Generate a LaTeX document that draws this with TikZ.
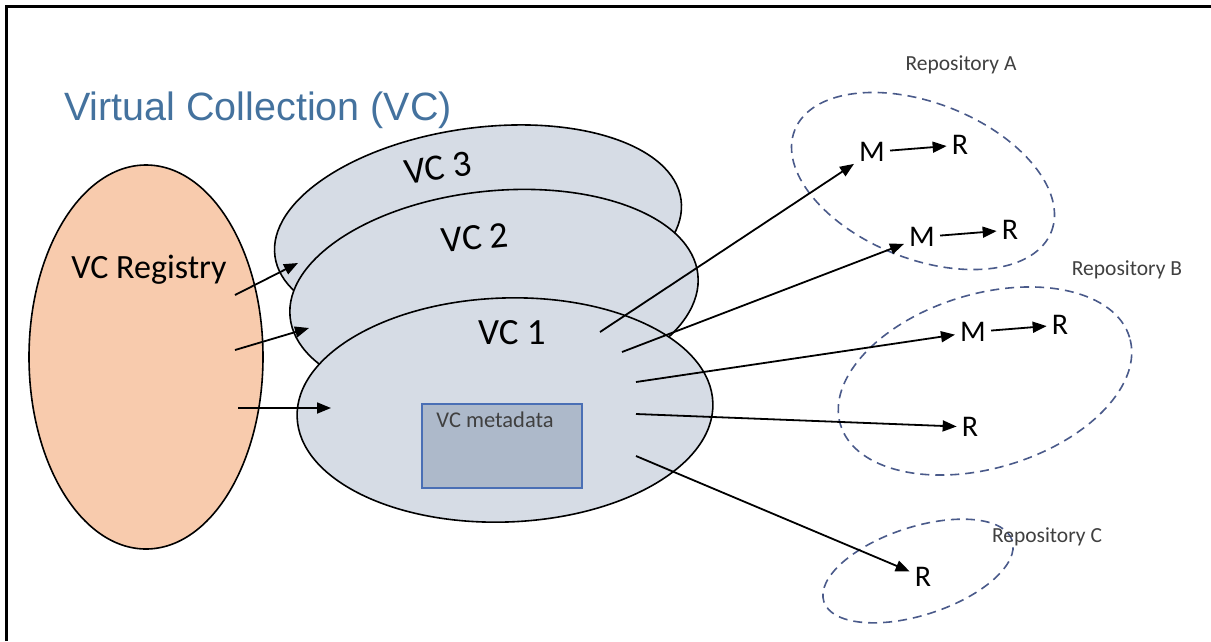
\documentclass[tikz,border=0pt]{standalone}
\usepackage{fontspec}
\setmainfont{Carlito}
\newfontfamily\titlefont{Liberation Sans}
\usetikzlibrary{shapes.geometric,arrows.meta,positioning}
\definecolor{titleblue}{HTML}{44729E}
\definecolor{vcfill}{HTML}{D6DCE5}
\definecolor{regfill}{HTML}{F8CBAD}
\definecolor{metafill}{HTML}{ADB9CA}
\definecolor{metaline}{HTML}{4A6FB5}
\definecolor{repoline}{HTML}{4A5A8A}
\definecolor{labelgray}{HTML}{404040}

\begin{document}
\begin{tikzpicture}[x=1pt, y=-1pt,
  blob/.style={ellipse, draw=black, line width=1.6pt, inner sep=0pt},
  arr/.style={-{Triangle[length=14pt,width=11pt]}, line width=1.8pt},
  sym/.style={font=\fontsize{30}{30}\selectfont, inner sep=5pt},
  vclabel/.style={font=\fontsize{37}{37}\selectfont, inner sep=0pt},
  repo/.style={ellipse, draw=repoline, line width=1.6pt, dash pattern=on 9pt off 6pt, inner sep=0pt},
  repolabel/.style={font=\fontsize{21.5}{21.5}\selectfont, text=labelgray, inner sep=0pt}]
  \useasboundingbox (0,0) rectangle (1211,641);
  % frame
  \draw[line width=3pt] (6,641) -- (6,6) -- (1211,6);

  \node[anchor=west, font=\titlefont\fontsize{39.5}{39.5}\selectfont, text=titleblue, inner sep=0pt] (title) at (64,110) {Virtual Collection (VC)};

  % registry and the stack of collections
  \node[blob, fill=regfill, minimum width=234pt, minimum height=384pt] (reg) at (146,357) {};
  \node[font=\fontsize{34}{34}\selectfont] (regtext) at (149,270) {VC Registry};
  \node[blob, fill=vcfill, minimum width=410pt, minimum height=200pt, rotate=8] (vc3) at (478,228) {};
  \node[blob, fill=vcfill, minimum width=410pt, minimum height=210pt, rotate=6] (vc2) at (494,296) {};
  \node[blob, fill=vcfill, minimum width=416pt, minimum height=224pt, rotate=2] (vc1) at (505,410) {};
  \node[vclabel, rotate=8] (vc3text) at (438,168) {VC 3};
  \node[vclabel, rotate=5] (vc2text) at (475,238) {VC 2};
  \node[vclabel] (vc1text) at (512,333) {VC 1};
  \node[draw=metaline, fill=metafill, line width=1.5pt, minimum width=160pt, minimum height=84pt,
        label={[anchor=north west, inner sep=0pt, font=\fontsize{22.5}{22.5}\selectfont, text=labelgray, xshift=15pt, yshift=-8pt]north west:VC metadata}] (meta) at (502,446) {};

  % repositories
  \node[repo, minimum width=276pt, minimum height=156pt, rotate=-21.6] (repoA) at (923,181) {};
  \node[repo, minimum width=302pt, minimum height=174pt, rotate=16.8] (repoB) at (985,381) {};
  \node[repo, minimum width=198pt, minimum height=88pt, rotate=18] (repoC) at (918,571) {};
  \node[repolabel] (repoAtext) at (961,65) {Repository A};
  \node[repolabel] (repoBtext) at (1127,270) {Repository B};
  \node[repolabel] (repoCtext) at (1047,537) {Repository C};

  \node[sym] (ma1) at (872,152) {M};
  \node[sym] (ra1) at (960,145) {R};
  \node[sym] (ma2) at (922,237) {M};
  \node[sym] (ra2) at (1010,230) {R};
  \node[sym] (mb1) at (973,332) {M};
  \node[sym] (rb1) at (1060,325) {R};
  \node[sym] (rb2) at (970,427) {R};
  \node[sym] (rc1) at (923,577) {R};

  % free ends
  \coordinate (g1) at (235,295);
  \coordinate (g2) at (235,350);
  \coordinate (g3) at (238,408);
  \coordinate (t1) at (298,263);
  \coordinate (t2) at (309,328);
  \coordinate (t3) at (331,408);
  \coordinate (c1) at (600,332);
  \coordinate (c2) at (622,352);
  \coordinate (c3) at (636,382);
  \coordinate (c4) at (636,414);
  \coordinate (c5) at (636,456);

  \draw[arr] (g1) -- (t1);
  \draw[arr] (g2) -- (t2);
  \draw[arr] (g3) -- (t3);
  \draw[arr] (c1) -- (ma1);
  \draw[arr] (c2) -- (ma2);
  \draw[arr] (c3) -- (mb1);
  \draw[arr] (c4) -- (rb2);
  \draw[arr] (c5) -- (rc1);
  \draw[arr] (ma1) -- (ra1);
  \draw[arr] (ma2) -- (ra2);
  \draw[arr] (mb1) -- (rb1);
\end{tikzpicture}
\end{document}
